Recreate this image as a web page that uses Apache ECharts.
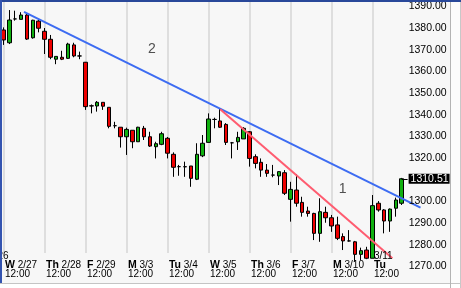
<!DOCTYPE html>
<html>
<head>
<meta charset="utf-8">
<script src="https://cdn.jsdelivr.net/npm/echarts@6/dist/echarts.min.js"></script>
<style>
html,body{margin:0;padding:0;background:#f7f7f7;}
#c{width:461px;height:288px;}
</style>
</head>
<body>
<div id="c"></div>
<script>
// ---- data ----
const weekdays = ['W','Th','F','M','Tu','W','Th','F','M','Tu'];
const dates = ['2/27','2/28','2/29','3/3','3/4','3/5','3/6','3/7','3/10','3/11'];
const timeLabel = '12:00';
const barsPerDay = 7;
const slotCount = 77;
const yTickValues = [1270,1280,1290,1300,1310,1320,1330,1340,1350,1360,1370,1380,1390];
// [open, close, low, high]
const ohlc = [
[1379.2,1374.6,1372.3,1380.4],[1373.3,1383.8,1372.7,1388.4],[1384.3,1384.3,1383.5,1388.1],
[1384.1,1386.1,1384.1,1387.4],[1386.1,1375.0,1374.6,1387.0],[1375.6,1383.7,1375.2,1383.9],
[1383.3,1380.0,1378.1,1384.1],[1378.6,1374.9,1368.1,1380.1],[1374.9,1366.6,1365.7,1376.9],
[1365.7,1367.0,1363.4,1367.0],[1366.6,1365.7,1365.3,1369.6],[1366.1,1372.7,1365.8,1373.3],
[1372.3,1367.2,1366.6,1373.3],[1367.2,1367.2,1365.7,1369.2],[1364.3,1343.8,1342.3,1364.4],
[1344.2,1344.1,1340.7,1344.8],[1344.1,1345.8,1341.5,1346.4],[1345.8,1344.0,1342.3,1345.8],
[1343.5,1334.7,1333.8,1343.5],[1335.0,1335.0,1333.8,1336.8],[1334.3,1329.9,1324.9,1334.3],
[1329.9,1333.3,1321.5,1334.1],[1332.9,1327.6,1324.6,1332.9],[1327.6,1334.3,1327.6,1334.5],
[1333.8,1329.9,1328.4,1334.9],[1329.9,1325.6,1325.2,1332.2],[1325.3,1326.7,1319.9,1327.6],
[1326.4,1331.3,1326.0,1332.2],[1329.2,1322.3,1319.9,1329.8],[1321.8,1315.8,1311.4,1322.7],
[1316.1,1316.1,1311.9,1316.9],[1316.1,1316.0,1311.4,1318.4],[1316.4,1310.7,1306.8,1316.4],
[1310.3,1321.8,1309.9,1326.9],[1321.1,1326.9,1320.5,1330.7],[1327.3,1338.1,1327.3,1340.7],
[1337.9,1337.9,1333.8,1338.7],[1337.2,1334.3,1334.0,1343.0],[1335.6,1327.3,1326.1,1336.2],
[1327.1,1327.1,1319.9,1327.5],[1327.6,1329.6,1323.8,1332.2],[1328.9,1333.8,1328.9,1334.3],
[1332.2,1319.9,1316.1,1332.5],[1320.7,1317.6,1315.3,1321.8],[1318.1,1314.5,1311.4,1319.9],
[1314.5,1313.0,1311.4,1317.3],[1312.2,1312.2,1311.2,1316.9],[1311.8,1313.8,1307.6,1314.0],
[1313.3,1303.8,1303.0,1314.5],[1301.0,1305.6,1290.7,1309.1],[1305.3,1299.2,1297.6,1312.7],
[1299.6,1295.0,1293.0,1302.2],[1295.6,1294.5,1293.0,1297.6],[1294.5,1285.3,1282.2,1294.8],
[1285.3,1295.3,1281.4,1301.5],[1295.0,1292.5,1290.2,1297.6],[1292.5,1288.7,1286.0,1293.8],
[1289.2,1283.0,1282.2,1293.0],[1283.8,1281.8,1277.6,1285.3],[1281.8,1281.8,1281.5,1286.8],
[1281.4,1275.6,1272.2,1281.8],[1275.6,1277.3,1273.0,1278.7],[1277.6,1273.8,1273.4,1279.1],
[1273.8,1298.1,1273.8,1303.0],[1299.2,1296.1,1295.3,1300.2],[1296.1,1291.0,1285.3,1296.5],
[1291.0,1296.5,1286.0,1296.8],[1296.9,1300.7,1293.0,1301.8],[1299.2,1310.51,1298.4,1310.9]
];
const blueTrend = [[3.5,1387.6],[71.2,1297.2]];
const redTrend = [[37,1342.6],[66.4,1273.8]];
const annotations = [{text:'2', x:25.35, y:1370.3},{text:'1', x:57.9, y:1305.9}];
const prevDayFragment = '2/26';
const yRange = {min: 1260.07, max: 1393.04};

// ---- build ----
const categories = [];
for (let i = 0; i < slotCount; i++) categories.push(String(i));
const lastIdx = ohlc.length - 1;
const lastClose = ohlc[lastIdx][1];
const FONT = 'Liberation Sans, Arial, sans-serif';

const chart = echarts.init(document.getElementById('c'), null, {renderer:'canvas'});
chart.setOption({
  animation: false,
  backgroundColor: '#f7f7f7',
  grid: {left: 3.5, top: 0, width: 445.1, height: 288, containLabel: false},
  xAxis: [
    {
      type: 'category', data: categories, boundaryGap: false, z: 0,
      axisLine: {show:false}, axisTick: {show:false}, axisLabel: {show:false},
      splitLine: {show: true, interval: (idx) => idx % barsPerDay === 0 && idx / barsPerDay < dates.length,
                  lineStyle: {color:'#dedede', width:2}}
    },
    {
      type: 'value', min: 0, max: slotCount - 1, interval: barsPerDay, position: 'bottom', z: 10,
      axisLine: {show:false}, axisTick: {show:false}, splitLine: {show:false},
      axisLabel: {
        inside: true, margin: 9, align: 'left', verticalAlign: 'bottom', showMaxLabel: false,
        fontSize: 10, lineHeight: 9, fontFamily: FONT, color: '#000', padding: [0,0,0,1.5],
        formatter: (v) => {
          const k = v / barsPerDay;
          if (!Number.isInteger(k) || k >= dates.length) return '';
          if (k === dates.length - 1) return dates[k] + '\n{b|' + weekdays[k] + '}\n' + timeLabel;
          return ' \n{b|' + weekdays[k] + '} ' + dates[k] + '\n' + timeLabel;
        },
        rich: {b: {fontWeight:'bold', fontSize: 10.5, lineHeight: 9, fontFamily: FONT, color:'#000'}}
      }
    }
  ],
  yAxis: {
    type: 'value', position: 'right', min: yRange.min, max: yRange.max, z: 10,
    axisLine: {show:false}, axisTick: {show:false}, splitLine: {show:false},
    axisLabel: {inside: true, margin: 2, fontSize: 10.5, fontFamily: FONT, color: '#000',
                customValues: yTickValues, formatter: (v) => v.toFixed(2)}
  },
  series: [
    {
      type: 'candlestick', xAxisIndex: 0, data: ohlc, barWidth: 4, clip: false, z: 2,
      itemStyle: {color:'#10b010', color0:'#ee0000', borderColor:'#000', borderColor0:'#000', borderWidth:1},
      markLine: {
        silent: true, symbol: ['none','none'], animation: false, z: 200,
        lineStyle: {color:'#000', width:1, type:'solid'},
        label: {show:true, position:'end', distance: 1, formatter: lastClose.toFixed(2),
                backgroundColor:'#000', color:'#fff', fontSize:10.5, fontFamily: FONT,
                padding:[1,1,0,2], lineHeight: 9},
        data: [[{coord:[lastIdx, lastClose]}, {coord:[lastIdx + 1, lastClose]}]]
      }
    },
    {
      type: 'line', xAxisIndex: 1, data: blueTrend, showSymbol: false, z: 3, silent: true,
      lineStyle: {color:'#3d6cf2', width:2},
      markPoint: {
        symbol: 'rect', symbolSize: 0, silent: true,
        label: {show:true, position:'inside', formatter:'{b}', fontSize:14, color:'#505050', fontFamily: FONT},
        data: annotations.map(a => ({name: a.text, coord: [a.x, a.y]}))
      }
    },
    {
      type: 'line', xAxisIndex: 1, data: redTrend, showSymbol: false, z: 3, silent: true,
      lineStyle: {color:'#ff5c70', width:2}
    }
  ],
  graphic: [
    {type:'rect', z: 1, shape:{x:2, y:253, width:448, height:30}, style:{fill:'#f7f7f7'}, silent:true},
    {type:'text', z: 5, style:{text: prevDayFragment, x: 8.5, y: 256.3, align:'right', verticalAlign:'middle',
      font: '10px ' + FONT, fill:'#000'}, silent:true},
    {type:'rect', z: -1, shape:{x:451, y:0, width:10, height:288}, style:{fill:'#fcfcfc'}, silent:true},
    {type:'rect', z: 100, shape:{x:0, y:283, width:461, height:5}, style:{fill:'#ffffff'}, silent:true},
    {type:'line', z: 101, shape:{x1:0, y1:283.5, x2:461, y2:283.5}, style:{stroke:'#c4c4c4', lineWidth:1}, silent:true},
    {type:'line', z: 101, shape:{x1:450.5, y1:0, x2:450.5, y2:288}, style:{stroke:'#b4b4b4', lineWidth:1}, silent:true},
    {type:'line', z: 101, shape:{x1:460.5, y1:0, x2:460.5, y2:288}, style:{stroke:'#c8c8c8', lineWidth:1}, silent:true},
    {type:'rect', z: 102, shape:{x:0, y:0, width:461, height:2}, style:{fill:'#29489a'}, silent:true},
    {type:'rect', z: 102, shape:{x:0, y:0, width:2, height:283}, style:{fill:'#3454b0'}, silent:true}
  ]
});
</script>
</body>
</html>
